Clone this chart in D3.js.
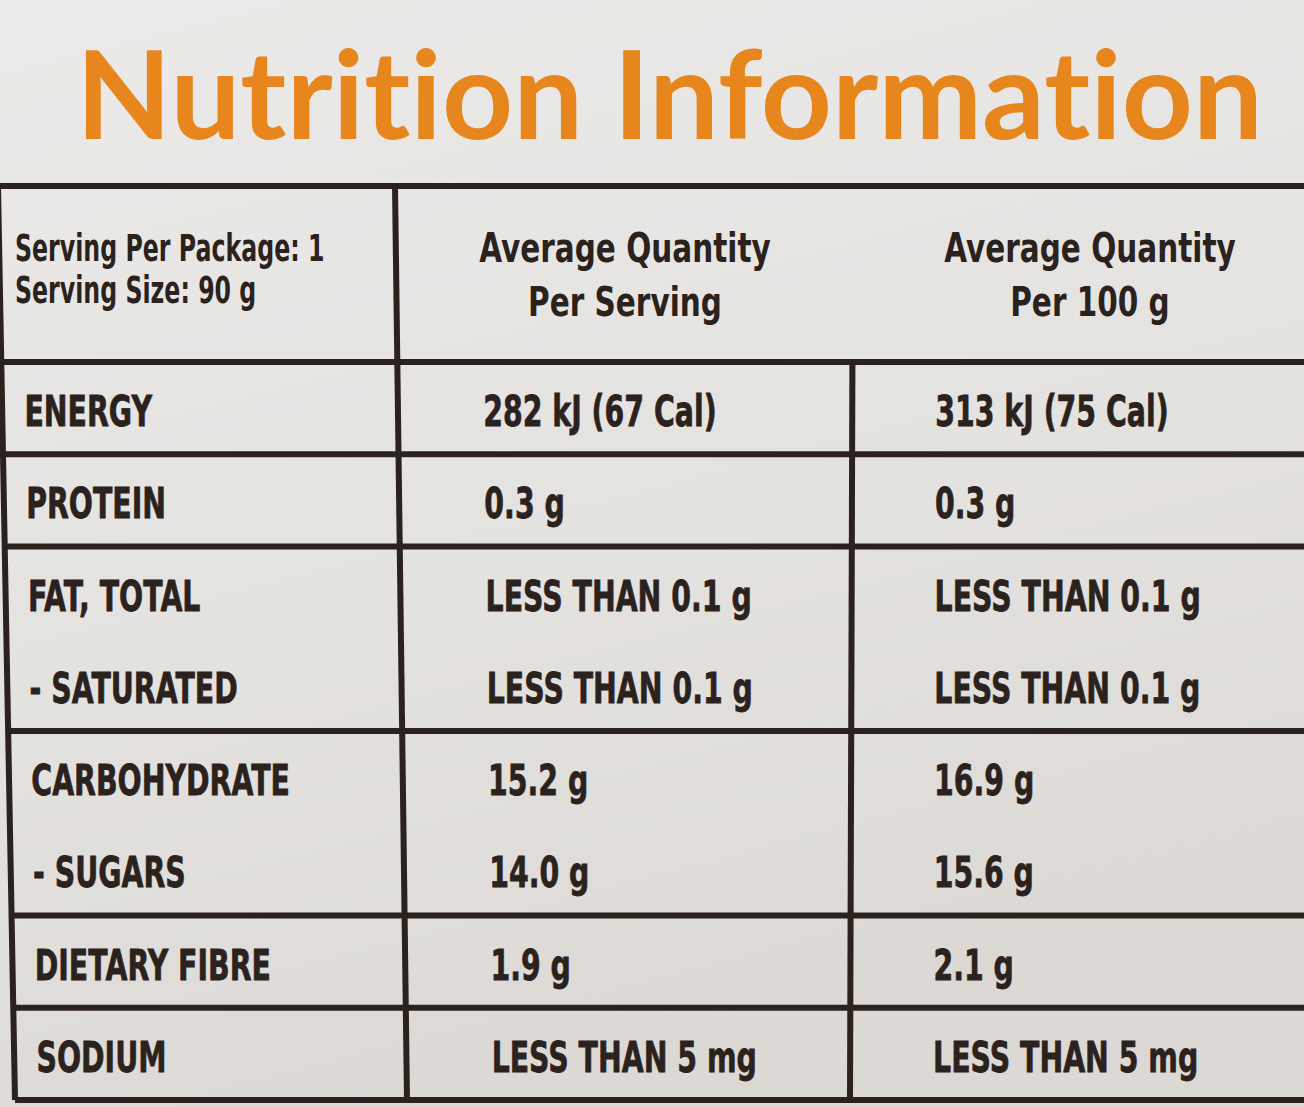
<!DOCTYPE html>
<html>
<head>
<meta charset="utf-8">
<script src="https://cdn.jsdelivr.net/npm/d3@7"></script>
<style>
  body { margin: 0; background: #e6e4e1; }
  svg { display: block; }
  text { font-variant-ligatures: none; }
</style>
</head>
<body>
<div id="label"></div>
<script>
const title = "Nutrition Information";
const servingInfo = ["Serving Per Package: 1", "Serving Size: 90 g"];
const columnHeads = [
    ["Average Quantity", "Per Serving"],
    ["Average Quantity", "Per 100 g"]
];
const nutrients = ["ENERGY", "PROTEIN", "FAT, TOTAL", "- SATURATED", "CARBOHYDRATE", "- SUGARS", "DIETARY FIBRE", "SODIUM"];
// rows that share one box
const groups = ["energy", "protein", "fat", "fat", "carb", "carb", "fibre", "sodium"];
const perServing = ["282 kJ (67 Cal)", "0.3 g", "LESS THAN 0.1 g", "LESS THAN 0.1 g", "15.2 g", "14.0 g", "1.9 g", "LESS THAN 5 mg"];
const per100g = ["313 kJ (75 Cal)", "0.3 g", "LESS THAN 0.1 g", "LESS THAN 0.1 g", "16.9 g", "15.6 g", "2.1 g", "LESS THAN 5 mg"];

const width = 1304, height = 1107;
const ink = "#2b221d";
const tableTop = 186, headBottom = 362, tableBottom = 1100;

const svg = d3.select("#label")
    .append("svg")
    .attr("width", width)
    .attr("height", height);

// paper background
const grad = svg.append("defs").append("linearGradient")
    .attr("id", "paper")
    .attr("x1", 0).attr("y1", 0).attr("x2", 0.3).attr("y2", 1);
grad.append("stop").attr("offset", 0).attr("stop-color", "#ebeae8");
grad.append("stop").attr("offset", 0.6).attr("stop-color", "#e4e2df");
grad.append("stop").attr("offset", 1).attr("stop-color", "#dcd9d5");

svg.append("rect")
    .attr("width", width)
    .attr("height", height)
    .attr("fill", "url(#paper)");

// rows
const y = d3.scaleBand()
    .domain(nutrients)
    .range([headBottom, tableBottom]);

// column edges lean a bit (photo perspective)
const edges = [[-2, 15], [395, 407], [853, 850]];
const lean = d3.scaleLinear().domain([tableTop, tableBottom]);
function edgeX(i, yy) {
    return lean.range(edges[i])(yy);
}

// title
svg.append("text")
    .attr("x", 76)
    .attr("y", 139)
    .attr("textLength", 1187)
    .attr("lengthAdjust", "spacingAndGlyphs")
    .style("font-family", "Lato, 'Open Sans', sans-serif")
    .style("font-weight", 700)
    .style("font-size", "122px")
    .style("fill", "#e6861d")
    .text(title);

// squeeze text horizontally to look like the condensed label type
function squeeze(sel, k) {
    sel.each(function() {
        const w = this.getComputedTextLength();
        d3.select(this)
            .attr("textLength", w * k)
            .attr("lengthAdjust", "spacingAndGlyphs");
    });
}

const bodyFont = "'DejaVu Sans', sans-serif";

// header: serving info
svg.selectAll(".serving")
    .data(servingInfo)
    .enter()
    .append("text")
    .attr("class", "serving")
    .attr("x", 15)
    .attr("y", (d, i) => 261 + i * 42)
    .style("font-family", bodyFont)
    .style("font-weight", 700)
    .style("font-size", "37px")
    .style("fill", ink)
    .text(d => d)
    .call(squeeze, 0.64);

// header: column heads
const headCenters = [625, 1090];
columnHeads.forEach((lines, c) => {
    svg.selectAll(".head" + c)
        .data(lines)
        .enter()
        .append("text")
        .attr("class", "head" + c)
        .attr("x", headCenters[c])
        .attr("y", (d, i) => 262 + i * 54)
        .attr("text-anchor", "middle")
        .style("font-family", bodyFont)
        .style("font-weight", 700)
        .style("font-size", "41px")
        .style("fill", ink)
        .text(d => d)
        .call(squeeze, 0.72);
});

// body cells
const baseline = d => y(d) + 64;
const columns = [
    { values: nutrients, edge: 0, pad: 22, k: 0.66 },
    { values: perServing, edge: 1, pad: 85, k: 0.66 },
    { values: per100g, edge: 2, pad: 83, k: 0.66 }
];
columns.forEach((col, c) => {
    svg.selectAll(".cell" + c)
        .data(col.values)
        .enter()
        .append("text")
        .attr("class", "cell" + c)
        .attr("x", (d, i) => edgeX(col.edge, baseline(nutrients[i])) + col.pad)
        .attr("y", (d, i) => baseline(nutrients[i]))
        .style("font-family", bodyFont)
        .style("font-weight", 700)
        .style("font-size", "43px")
        .style("fill", ink)
        .style("stroke", ink)
        .style("stroke-width", 0.8)
        .text(d => d)
        .call(squeeze, col.k);
});

// grid lines
const rowLines = [tableTop, headBottom];
nutrients.forEach((n, i) => {
    if (i > 0 && groups[i] !== groups[i - 1]) rowLines.push(y(n));
});
rowLines.push(tableBottom);

svg.selectAll(".hline")
    .data(rowLines)
    .enter()
    .append("line")
    .attr("class", "hline")
    .attr("x1", d => edgeX(0, d))
    .attr("x2", width)
    .attr("y1", d => d)
    .attr("y2", d => d)
    .attr("stroke", ink)
    .attr("stroke-width", 6);

const vlines = [
    { edge: 0, from: tableTop },
    { edge: 1, from: tableTop },
    { edge: 2, from: headBottom }
];
svg.selectAll(".vline")
    .data(vlines)
    .enter()
    .append("line")
    .attr("class", "vline")
    .attr("x1", d => edgeX(d.edge, d.from))
    .attr("x2", d => edgeX(d.edge, tableBottom))
    .attr("y1", d => d.from)
    .attr("y2", tableBottom)
    .attr("stroke", ink)
    .attr("stroke-width", 6);
</script>
</body>
</html>
